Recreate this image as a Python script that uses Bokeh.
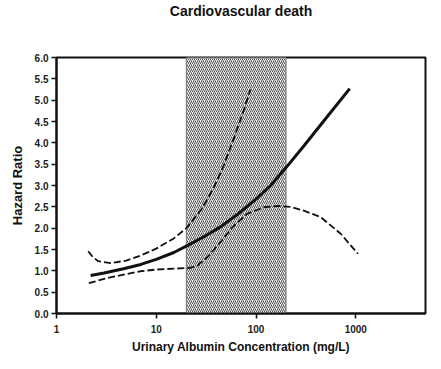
from bokeh.plotting import figure
from bokeh.models import FixedTicker, NumeralTickFormatter, Range1d, Title
from bokeh.embed import file_html
from bokeh.resources import INLINE

# Hazard ratio (solid) vs urinary albumin concentration (mg/L)
conc_main = [2.2, 3.0, 4.7, 7.0, 10, 15, 20, 30, 44, 65, 100, 140, 200, 300, 500, 870]
hr_main = [0.89, 0.95, 1.05, 1.15, 1.27, 1.43, 1.58, 1.80, 2.03, 2.32, 2.68, 3.00, 3.42, 3.92, 4.57, 5.27]

# Upper confidence limit (dashed)
conc_upper = [2.08, 2.3, 2.6, 3.5, 5.0, 7.0, 10, 15, 20, 28, 38, 48, 62, 75, 88]
hr_upper = [1.46, 1.33, 1.23, 1.18, 1.24, 1.36, 1.52, 1.76, 2.00, 2.42, 2.96, 3.50, 4.20, 4.75, 5.25]

# Lower confidence limit (dashed)
conc_lower = [2.11, 3.2, 4.7, 6.9, 10, 15, 22, 26, 32.5, 44, 60, 82, 120, 165, 220, 302, 444, 706, 1050]
hr_lower = [0.71, 0.83, 0.91, 0.99, 1.03, 1.05, 1.07, 1.13, 1.32, 1.67, 2.06, 2.34, 2.49, 2.52, 2.50, 2.41, 2.26, 1.87, 1.40]

# Microalbuminuria band
band_left = [20]
band_right = [200]
band_bottom = [0]
band_top = [6]

x_ticks = [1, 10, 100, 1000]
y_ticks = [0.0, 0.5, 1.0, 1.5, 2.0, 2.5, 3.0, 3.5, 4.0, 4.5, 5.0, 5.5, 6.0]
title_text = "Cardiovascular death"

p = figure(width=433, height=361, x_axis_type="log", title=None,
           x_range=Range1d(1, 5000), y_range=Range1d(0, 6),
           output_backend="svg", toolbar_location=None,
           min_border_left=56, min_border_right=8, min_border_top=57, min_border_bottom=48)

# spacer between frame and title, then the title itself (outer)
p.add_layout(Title(text=" ", text_font_size="1px", standoff=35), "above")
p.add_layout(Title(text=title_text, align="center", vertical_align="middle",
                   text_font="Liberation Sans", text_font_size="14px",
                   text_font_style="bold", text_color="#111111", standoff=0), "above")

p.quad(left=band_left, right=band_right, bottom=band_bottom, top=band_top,
       fill_color="#ececec", hatch_pattern="/", hatch_color="#555555",
       hatch_scale=4, hatch_weight=1.0, line_color="#777777", line_width=1)

p.line(conc_main, hr_main, line_color="#111111", line_width=3)
p.line(conc_upper, hr_upper, line_color="#111111", line_width=1.8, line_dash="7 3")
p.line(conc_lower, hr_lower, line_color="#111111", line_width=1.8, line_dash="7 3")

p.grid.visible = False
p.outline_line_color = "#111111"
p.outline_line_width = 2
p.background_fill_color = "white"
p.border_fill_color = "white"

for ax in (p.xaxis[0], p.yaxis[0]):
    ax.axis_line_width = 2
    ax.axis_line_color = "#111111"
    ax.major_tick_line_color = "#111111"
    ax.major_tick_line_width = 1.5
    ax.major_tick_out = 5
    ax.major_tick_in = 0
    ax.minor_tick_line_color = None
    ax.major_label_text_font = "Liberation Sans"
    ax.major_label_text_font_size = "10px"
    ax.major_label_text_font_style = "bold"
    ax.major_label_text_color = "#222222"
    ax.axis_label_text_font = "Liberation Sans"
    ax.axis_label_text_font_style = "bold"
    ax.axis_label_text_color = "#111111"

p.xaxis.ticker = FixedTicker(ticks=x_ticks)
p.xaxis.formatter = NumeralTickFormatter(format="0")
p.xaxis.axis_label = "Urinary Albumin Concentration (mg/L)"
p.xaxis.axis_label_text_font_size = "12px"
p.xaxis.major_label_standoff = 6
p.xaxis.axis_label_standoff = 4

p.yaxis.ticker = FixedTicker(ticks=y_ticks)
p.yaxis.formatter = NumeralTickFormatter(format="0.0")
p.yaxis.axis_label = "Hazard Ratio"
p.yaxis.axis_label_text_font_size = "13px"
p.yaxis.major_label_standoff = 3
p.yaxis.axis_label_standoff = 7

open("out.html", "w").write(file_html(p, INLINE))
